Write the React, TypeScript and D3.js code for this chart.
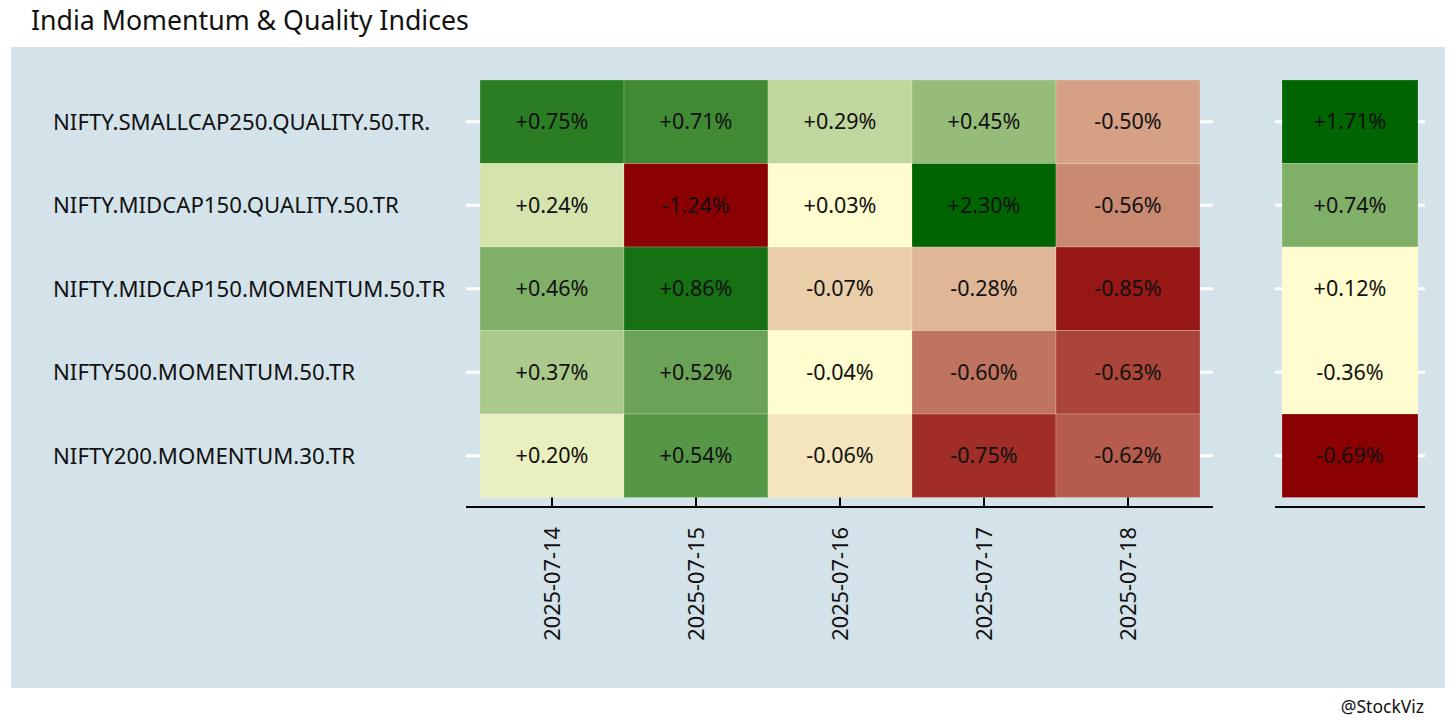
import { useRef, useEffect } from "react";
import * as d3 from "d3";

const dates = ["2025-07-14", "2025-07-15", "2025-07-16", "2025-07-17", "2025-07-18"];
const indices = [
  "NIFTY.SMALLCAP250.QUALITY.50.TR.",
  "NIFTY.MIDCAP150.QUALITY.50.TR",
  "NIFTY.MIDCAP150.MOMENTUM.50.TR",
  "NIFTY500.MOMENTUM.50.TR",
  "NIFTY200.MOMENTUM.30.TR",
];

// daily returns (%), one array per index, in date order
const smallcap250Quality = [0.75, 0.71, 0.29, 0.45, -0.5];
const midcap150Quality = [0.24, -1.24, 0.03, 2.3, -0.56];
const midcap150Momentum = [0.46, 0.86, -0.07, -0.28, -0.85];
const nifty500Momentum = [0.37, 0.52, -0.04, -0.6, -0.63];
const nifty200Momentum = [0.2, 0.54, -0.06, -0.75, -0.62];
const daily = [smallcap250Quality, midcap150Quality, midcap150Momentum, nifty500Momentum, nifty200Momentum];

// cumulative return for the week, per index
const weekTotal = [1.71, 0.74, 0.12, -0.36, -0.69];

const THEME = {
  panel: "#d4e3ea",
  low: "#8b0000",
  mid: "#fffcd0",
  high: "#006400",
  font: "'Noto Sans', 'Open Sans', sans-serif",
};

const fmt = (v: number) => (v >= 0 ? "+" : "") + v.toFixed(2) + "%";

// colour by rank, negatives and positives ranked on their own side
function rankColor(values: number[]) {
  const neg = values.filter((v) => v < 0).sort(d3.descending);
  const pos = values.filter((v) => v >= 0).sort(d3.ascending);
  const negScale = d3.scaleLinear<string>().domain([0, Math.max(neg.length - 1, 1)]).range([THEME.mid, THEME.low]);
  const posScale = d3.scaleLinear<string>().domain([0, Math.max(pos.length - 1, 1)]).range([THEME.mid, THEME.high]);
  return (v: number) => (v < 0 ? negScale(neg.indexOf(v)) : posScale(pos.indexOf(v)));
}

export default function App() {
  const svgRef = useRef<SVGSVGElement>(null);

  useEffect(() => {
    if (!svgRef.current) return;
    const svg = d3.select(svgRef.current);
    svg.selectAll("*").remove();

    const top = 80;
    const bottom = 497.5;
    const axisY = 507;

    svg.append("rect").attr("x", 11).attr("y", 47).attr("width", 1434).attr("height", 641).attr("fill", THEME.panel);

    svg.append("text")
      .attr("x", 31).attr("y", 30)
      .attr("font-size", 26.7).attr("fill", "#111")
      .text("India Momentum & Quality Indices");

    svg.append("text")
      .attr("x", 1424).attr("y", 713)
      .attr("text-anchor", "end").attr("font-size", 17.5).attr("fill", "#111")
      .text("@StockViz");

    const y = d3.scaleBand<number>().domain(d3.range(indices.length)).range([top, bottom]);
    const x = d3.scaleBand<string>().domain(dates).range([480, 1200]);
    const xw = d3.scaleBand<string>().domain(["week"]).range([1282, 1418]);

    const cells = daily.flatMap((row, i) => row.map((v, j) => ({ i, date: dates[j], v })));
    const mainColor = rankColor(cells.map((d) => d.v));
    const weekColor = rankColor(weekTotal);

    // y tick marks (white), both sides of both panels
    const ticks = [
      [466, 480], [1200, 1213], [1275, 1282], [1418, 1425],
    ];
    ticks.forEach(([a, b]) => {
      svg.append("g").selectAll("line")
        .data(d3.range(indices.length))
        .enter()
        .append("line")
        .attr("x1", a).attr("x2", b)
        .attr("y1", (d) => y(d)! + y.bandwidth() / 2)
        .attr("y2", (d) => y(d)! + y.bandwidth() / 2)
        .attr("stroke", "#fff").attr("stroke-width", 3);
    });

    // main heatmap
    const g = svg.append("g");
    g.selectAll("rect")
      .data(cells)
      .enter()
      .append("rect")
      .attr("x", (d) => x(d.date)!)
      .attr("y", (d) => y(d.i)!)
      .attr("width", x.bandwidth())
      .attr("height", y.bandwidth())
      .attr("fill", (d) => mainColor(d.v))
      .attr("stroke", "rgba(255,255,255,0.35)")
      .attr("stroke-width", 0.6);

    g.selectAll("text")
      .data(cells)
      .enter()
      .append("text")
      .attr("x", (d) => x(d.date)! + x.bandwidth() / 2)
      .attr("y", (d) => y(d.i)! + y.bandwidth() / 2)
      .attr("dy", "0.35em")
      .attr("text-anchor", "middle")
      .attr("font-size", 21.5)
      .attr("fill", "#111")
      .text((d) => fmt(d.v));

    // weekly panel
    const gw = svg.append("g");
    gw.selectAll("rect")
      .data(weekTotal)
      .enter()
      .append("rect")
      .attr("x", xw("week")!)
      .attr("y", (_, i) => y(i)!)
      .attr("width", xw.bandwidth())
      .attr("height", y.bandwidth())
      .attr("fill", (d) => weekColor(d))
      .attr("stroke", "rgba(255,255,255,0.35)")
      .attr("stroke-width", 0.6);

    gw.selectAll("text")
      .data(weekTotal)
      .enter()
      .append("text")
      .attr("x", xw("week")! + xw.bandwidth() / 2)
      .attr("y", (_, i) => y(i)! + y.bandwidth() / 2)
      .attr("dy", "0.35em")
      .attr("text-anchor", "middle")
      .attr("font-size", 21.5)
      .attr("fill", "#111")
      .text((d) => fmt(d));

    // y labels
    svg.append("g").selectAll("text")
      .data(indices)
      .enter()
      .append("text")
      .attr("x", 53)
      .attr("y", (_, i) => y(i)! + y.bandwidth() / 2)
      .attr("dy", "0.35em")
      .attr("font-size", 22.2)
      .attr("fill", "#111")
      .text((d) => d);

    // x axes
    svg.append("line").attr("x1", 466).attr("x2", 1213).attr("y1", axisY).attr("y2", axisY)
      .attr("stroke", "#000").attr("stroke-width", 2);
    svg.append("line").attr("x1", 1275).attr("x2", 1425).attr("y1", axisY).attr("y2", axisY)
      .attr("stroke", "#000").attr("stroke-width", 2);

    svg.append("g").selectAll("line")
      .data(dates)
      .enter()
      .append("line")
      .attr("x1", (d) => x(d)! + x.bandwidth() / 2)
      .attr("x2", (d) => x(d)! + x.bandwidth() / 2)
      .attr("y1", bottom).attr("y2", axisY)
      .attr("stroke", "#000").attr("stroke-width", 2);

    svg.append("g").selectAll("text")
      .data(dates)
      .enter()
      .append("text")
      .attr("transform", (d) => `translate(${x(d)! + x.bandwidth() / 2},527) rotate(-90)`)
      .attr("dy", "0.35em")
      .attr("text-anchor", "end")
      .attr("font-size", 21.8)
      .attr("fill", "#111")
      .text((d) => d);
  }, []);

  return (
    <svg
      ref={svgRef}
      width={1456}
      height={728}
      style={{ position: "absolute", left: 0, top: 0, background: "#fff", fontFamily: THEME.font }}
    />
  );
}
